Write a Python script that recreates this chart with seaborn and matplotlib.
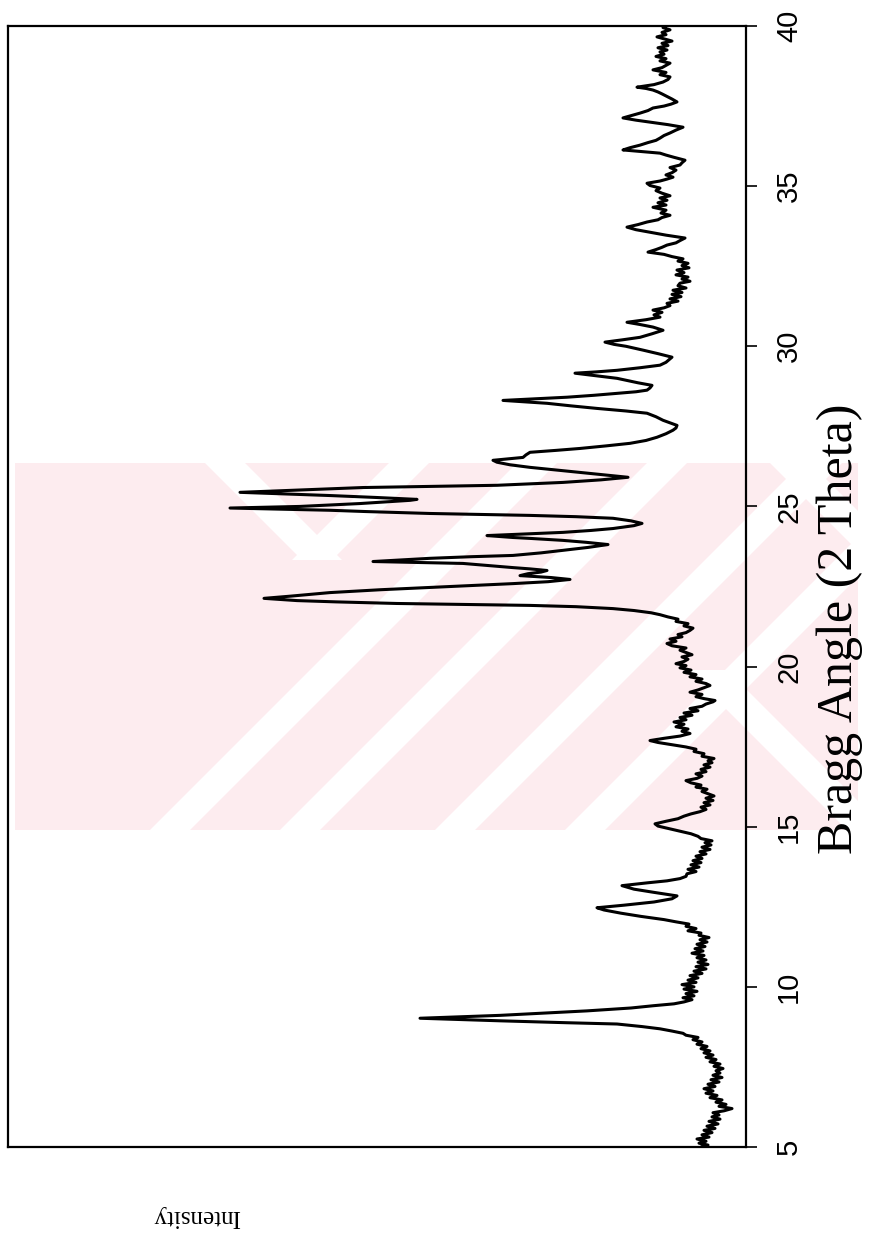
import matplotlib
matplotlib.use("Agg")
import matplotlib.pyplot as plt
from matplotlib.patches import Polygon, Rectangle
import numpy as np
import pandas as pd
import seaborn as sns

# Powder X-ray diffraction pattern: 2-theta (degrees) and intensity (arb. units)
two_theta = [
    5.00, 5.06, 5.12, 5.18, 5.25, 5.31, 5.38, 5.45, 5.52, 5.58, 5.65, 5.72, 5.80, 5.87, 5.94,
    6.00, 6.07, 6.13, 6.20, 6.27, 6.33, 6.40, 6.47, 6.54, 6.61, 6.68, 6.75, 6.82, 6.89, 6.96,
    7.03, 7.10, 7.17, 7.24, 7.31, 7.38, 7.45, 7.52, 7.59, 7.66, 7.73, 7.80, 7.87, 7.94,
    8.00, 8.07, 8.14, 8.21, 8.28, 8.35, 8.42, 8.49, 8.55, 8.62, 8.69, 8.76, 8.84, 8.88, 8.94,
    9.02, 9.11, 9.25, 9.34, 9.41, 9.47, 9.53, 9.60, 9.66, 9.72, 9.79, 9.86, 9.93,
    10.00, 10.07, 10.14, 10.21, 10.28, 10.35, 10.42, 10.49, 10.56, 10.63, 10.70, 10.77, 10.84,
    10.91, 10.98, 11.05, 11.12, 11.19, 11.26, 11.33, 11.40, 11.47, 11.54, 11.61, 11.68, 11.75,
    11.82, 11.89, 11.96, 12.03, 12.10, 12.20, 12.30, 12.40, 12.47, 12.55, 12.65, 12.75, 12.84,
    12.95, 13.05, 13.16, 13.25, 13.31, 13.38, 13.45, 13.53, 13.60, 13.67, 13.74, 13.81, 13.88,
    13.94, 14.01, 14.08, 14.15, 14.22, 14.29, 14.36, 14.43, 14.50, 14.56, 14.63, 14.70, 14.78,
    14.86, 14.95, 15.02, 15.09, 15.17, 15.25, 15.33, 15.40, 15.47, 15.54, 15.61, 15.68, 15.75,
    15.82, 15.89, 15.96, 16.03, 16.10, 16.17, 16.24, 16.30, 16.37, 16.44, 16.51, 16.58, 16.65,
    16.72, 16.79, 16.86, 16.93, 17.00, 17.06, 17.13, 17.20, 17.28, 17.35, 17.42, 17.49, 17.56,
    17.63, 17.69, 17.76, 17.83, 17.91, 17.98, 18.05, 18.12, 18.20, 18.27, 18.34, 18.41, 18.48,
    18.55, 18.62, 18.69, 18.76, 18.83, 18.90, 18.94, 19.00, 19.06, 19.13, 19.20, 19.27, 19.34,
    19.41, 19.47, 19.54, 19.61, 19.68, 19.75, 19.82, 19.89, 19.96, 20.03, 20.09, 20.16, 20.23,
    20.30, 20.37, 20.44, 20.51, 20.58, 20.65, 20.72, 20.79, 20.86, 20.93, 21.00, 21.06, 21.13,
    21.20, 21.27, 21.34, 21.41, 21.48, 21.55, 21.62, 21.68, 21.75, 21.81, 21.87, 21.91, 21.97,
    22.02, 22.06, 22.13, 22.20, 22.31, 22.40, 22.47, 22.53, 22.59, 22.65, 22.72, 22.78, 22.84,
    22.90, 22.95, 23.00, 23.05, 23.09, 23.16, 23.22, 23.28, 23.33, 23.38, 23.43, 23.47, 23.55,
    23.63, 23.72, 23.81, 23.88, 23.94, 24.00, 24.03, 24.09, 24.14, 24.19, 24.25, 24.31, 24.40,
    24.47, 24.55, 24.63, 24.68, 24.72, 24.78, 24.84, 24.88, 24.95, 25.00, 25.09, 25.19, 25.22,
    25.28, 25.34, 25.44, 25.52, 25.59, 25.66, 25.75, 25.83, 25.91, 25.98, 26.06, 26.14, 26.22,
    26.30, 26.38, 26.44, 26.53, 26.61, 26.69, 26.75, 26.81, 26.89, 26.97, 27.06, 27.16, 27.27,
    27.38, 27.45, 27.53, 27.61, 27.69, 27.80, 27.91, 27.98, 28.06, 28.14, 28.22, 28.31, 28.36,
    28.41, 28.47, 28.53, 28.58, 28.63, 28.70, 28.78, 28.86, 28.94, 29.00, 29.08, 29.16, 29.20,
    29.25, 29.33, 29.41, 29.50, 29.58, 29.66, 29.77, 29.88, 30.00, 30.06, 30.13, 30.20, 30.28,
    30.39, 30.50, 30.60, 30.68, 30.75, 30.83, 30.91, 30.98, 31.06, 31.13, 31.20, 31.27, 31.34,
    31.41, 31.48, 31.55, 31.62, 31.68, 31.75, 31.82, 31.89, 31.97, 32.03, 32.10, 32.16, 32.23,
    32.30, 32.38, 32.45, 32.52, 32.59, 32.66, 32.73, 32.80, 32.87, 32.94, 33.02, 33.09, 33.16,
    33.23, 33.30, 33.38, 33.47, 33.56, 33.64, 33.72, 33.80, 33.88, 33.95, 34.02, 34.09, 34.16,
    34.25, 34.34, 34.41, 34.48, 34.56, 34.63, 34.70, 34.78, 34.86, 34.94, 35.02, 35.09, 35.16,
    35.22, 35.28, 35.35, 35.42, 35.50, 35.58, 35.66, 35.73, 35.81, 35.90, 35.97, 36.03, 36.08,
    36.13, 36.20, 36.28, 36.36, 36.43, 36.50, 36.58, 36.66, 36.75, 36.84, 36.92, 37.00, 37.06,
    37.13, 37.20, 37.28, 37.36, 37.44, 37.50, 37.56, 37.63, 37.72, 37.80, 37.88, 37.94, 38.00,
    38.05, 38.09, 38.17, 38.25, 38.33, 38.41, 38.48, 38.55, 38.63, 38.70, 38.77, 38.84, 38.91,
    38.98, 39.05, 39.12, 39.19, 39.25, 39.32, 39.39, 39.46, 39.53, 39.60, 39.66, 39.73, 39.80,
    39.88, 39.95, 40.00,
]

intensity = [
    45, 38, 47, 40, 49, 37, 44, 34, 42, 31, 39, 28, 37, 26, 34,
    27, 33, 22, 14, 27, 20, 30, 24, 36, 29, 40, 33, 42, 31, 38,
    27, 35, 24, 33, 26, 30, 23, 32, 26, 36, 30, 40, 33, 42,
    36, 45, 39, 49, 44, 53, 48, 60, 63, 74, 86, 104, 129, 179, 246,
    326, 246, 159, 115, 93, 72, 62, 54, 63, 52, 60, 49, 62,
    52, 64, 50, 58, 48, 56, 44, 52, 40, 50, 38, 48, 40,
    49, 42, 54, 43, 51, 41, 49, 39, 46, 37, 47, 45, 58,
    50, 60, 57, 70, 82, 105, 125, 142, 149, 122, 92, 74, 69,
    92, 112, 124, 98, 79, 66, 60, 59, 50, 58, 47, 55, 45,
    53, 44, 50, 40, 46, 36, 44, 35, 41, 34, 45, 48, 55,
    66, 78, 88, 91, 80, 68, 62, 55, 46, 40, 45, 36, 42,
    33, 40, 32, 38, 44, 39, 50, 45, 55, 60, 49, 44, 50,
    40, 45, 36, 42, 34, 38, 32, 44, 42, 52, 50, 60, 74,
    88, 96, 82, 66, 56, 64, 58, 70, 62, 72, 60, 66, 54,
    62, 48, 56, 44, 40, 33, 31, 42, 50, 44, 56, 48, 42,
    36, 40, 50, 44, 56, 50, 62, 55, 66, 60, 70, 62, 58,
    64, 54, 60, 66, 60, 74, 79, 70, 76, 64, 68, 60, 56,
    53, 62, 58, 70, 68, 78, 86, 95, 112, 133, 170, 216, 349,
    410, 449, 482, 455, 416, 365, 316, 275, 233, 198, 176, 195, 226,
    218, 205, 199, 216, 233, 260, 283, 373, 345, 316, 275, 233, 205,
    183, 158, 138, 160, 183, 215, 233, 259, 222, 183, 155, 133, 112,
    104, 115, 133, 170, 216, 316, 380, 416, 516, 446, 386, 336, 329,
    370, 416, 506, 440, 383, 249, 183, 145, 118, 140, 166, 190, 216,
    236, 249, 253, 223, 220, 216, 190, 166, 140, 116, 100, 89, 80,
    73, 70, 69, 76, 83, 90, 99, 120, 149, 175, 199, 243, 210,
    179, 152, 129, 110, 99, 96, 94, 108, 120, 129, 150, 171, 150,
    129, 106, 86, 80, 77, 74, 88, 103, 120, 132, 141, 124, 106,
    94, 83, 93, 106, 119, 100, 86, 92, 84, 93, 82, 76, 79,
    68, 76, 65, 74, 64, 73, 60, 68, 66, 56, 64, 58, 70,
    62, 69, 57, 64, 58, 68, 63, 74, 82, 98, 90, 84, 79,
    70, 66, 61, 80, 96, 110, 119, 108, 99, 88, 84, 76, 85,
    80, 93, 80, 88, 79, 86, 76, 84, 90, 86, 96, 99, 86,
    79, 73, 80, 74, 70, 76, 66, 64, 61, 72, 80, 86, 104,
    123, 116, 106, 98, 90, 86, 82, 76, 70, 63, 78, 96, 110,
    123, 115, 106, 98, 93, 82, 75, 69, 74, 79, 84, 88, 93,
    100, 109, 92, 83, 78, 76, 86, 80, 93, 84, 80, 76, 86,
    80, 90, 82, 86, 79, 88, 78, 84, 74, 82, 89, 80, 84,
    76, 83, 80,
]

angle_ticks = [5, 10, 15, 20, 25, 30, 35, 40]

pattern = pd.DataFrame({"two_theta": two_theta, "intensity": intensity})

sns.set_theme(style="white")
plt.rcParams["font.family"] = ["Liberation Sans", "DejaVu Sans"]

W, H = 873, 1245
fig = plt.figure(figsize=(W / 100, H / 100), dpi=100)
fig.patch.set_facecolor("white")


def fx(x):
    return x / W


def fy(y):
    return 1 - y / H


# light pink background stamp with white slanted bands
PINK = "#fdecef"
band_top, band_bot, band_left, band_right = 463, 830, 15, 858
stamp = Rectangle((fx(band_left), fy(band_bot)), fx(band_right) - fx(band_left),
                  fy(band_top) - fy(band_bot), transform=fig.transFigure,
                  facecolor=PINK, edgecolor="none", zorder=-2)
fig.add_artist(stamp)


def band(c, half, s=1, y0=band_top, y1=band_bot):
    # white band centred on the line x + s*y = c, between rows y0 and y1
    pts = [(c - half - s * y0, y0), (c + half - s * y0, y0),
           (c + half - s * y1, y1), (c - half - s * y1, y1)]
    poly = Polygon([(fx(x), fy(y)) for x, y in pts], closed=True,
                   transform=fig.transFigure, facecolor="white",
                   edgecolor="none", zorder=-1)
    fig.add_artist(poly)
    poly.set_clip_path(stamp)


# forward-slanted bands
for c in (1000, 1130, 1285, 1415):
    band(c, 20)
# chevron near the top left: two arms meeting at a point
band(872, 20, s=1, y0=band_top, y1=560)
band(-238, 20, s=-1, y0=band_top, y1=560)
# back-slanted bands on the right-hand side
band(37, 20, s=-1, y0=670, y1=band_bot)
band(327, 20, s=-1, y0=band_top, y1=560)

# axes box in pixel terms: left 8, right 746, top 26, bottom 1147
ax = fig.add_axes([fx(8), fy(1147), fx(746) - fx(8), fy(26) - fy(1147)])
ax.set_facecolor("none")

sns.lineplot(data=pattern, x="intensity", y="two_theta", sort=False,
             estimator=None, color="black", linewidth=2.2, ax=ax)

ax.set_xlim(738, 0)
ax.set_ylim(5, 40)
ax.set_xticks([])
ax.set_xlabel("")
ax.set_ylabel("")

ax.yaxis.tick_right()
ax.set_yticks(angle_ticks)
ax.set_yticklabels([str(t) for t in angle_ticks], rotation=90, va="center")
ax.tick_params(axis="y", which="both", direction="out", length=8, width=1.2,
               pad=13, labelsize=21, right=True, left=False, colors="black")

for s in ax.spines.values():
    s.set_color("black")
    s.set_linewidth(1.6)

fig.text(fx(840), fy(629), "Bragg Angle (2 Theta)", rotation=90,
         ha="center", va="center", family="Liberation Serif", fontsize=36,
         color="black")
fig.text(fx(196), fy(1216), "Intensity", rotation=180,
         ha="center", va="center", family="Liberation Serif", fontsize=18,
         color="black")

fig.savefig("out.png", dpi=100)
